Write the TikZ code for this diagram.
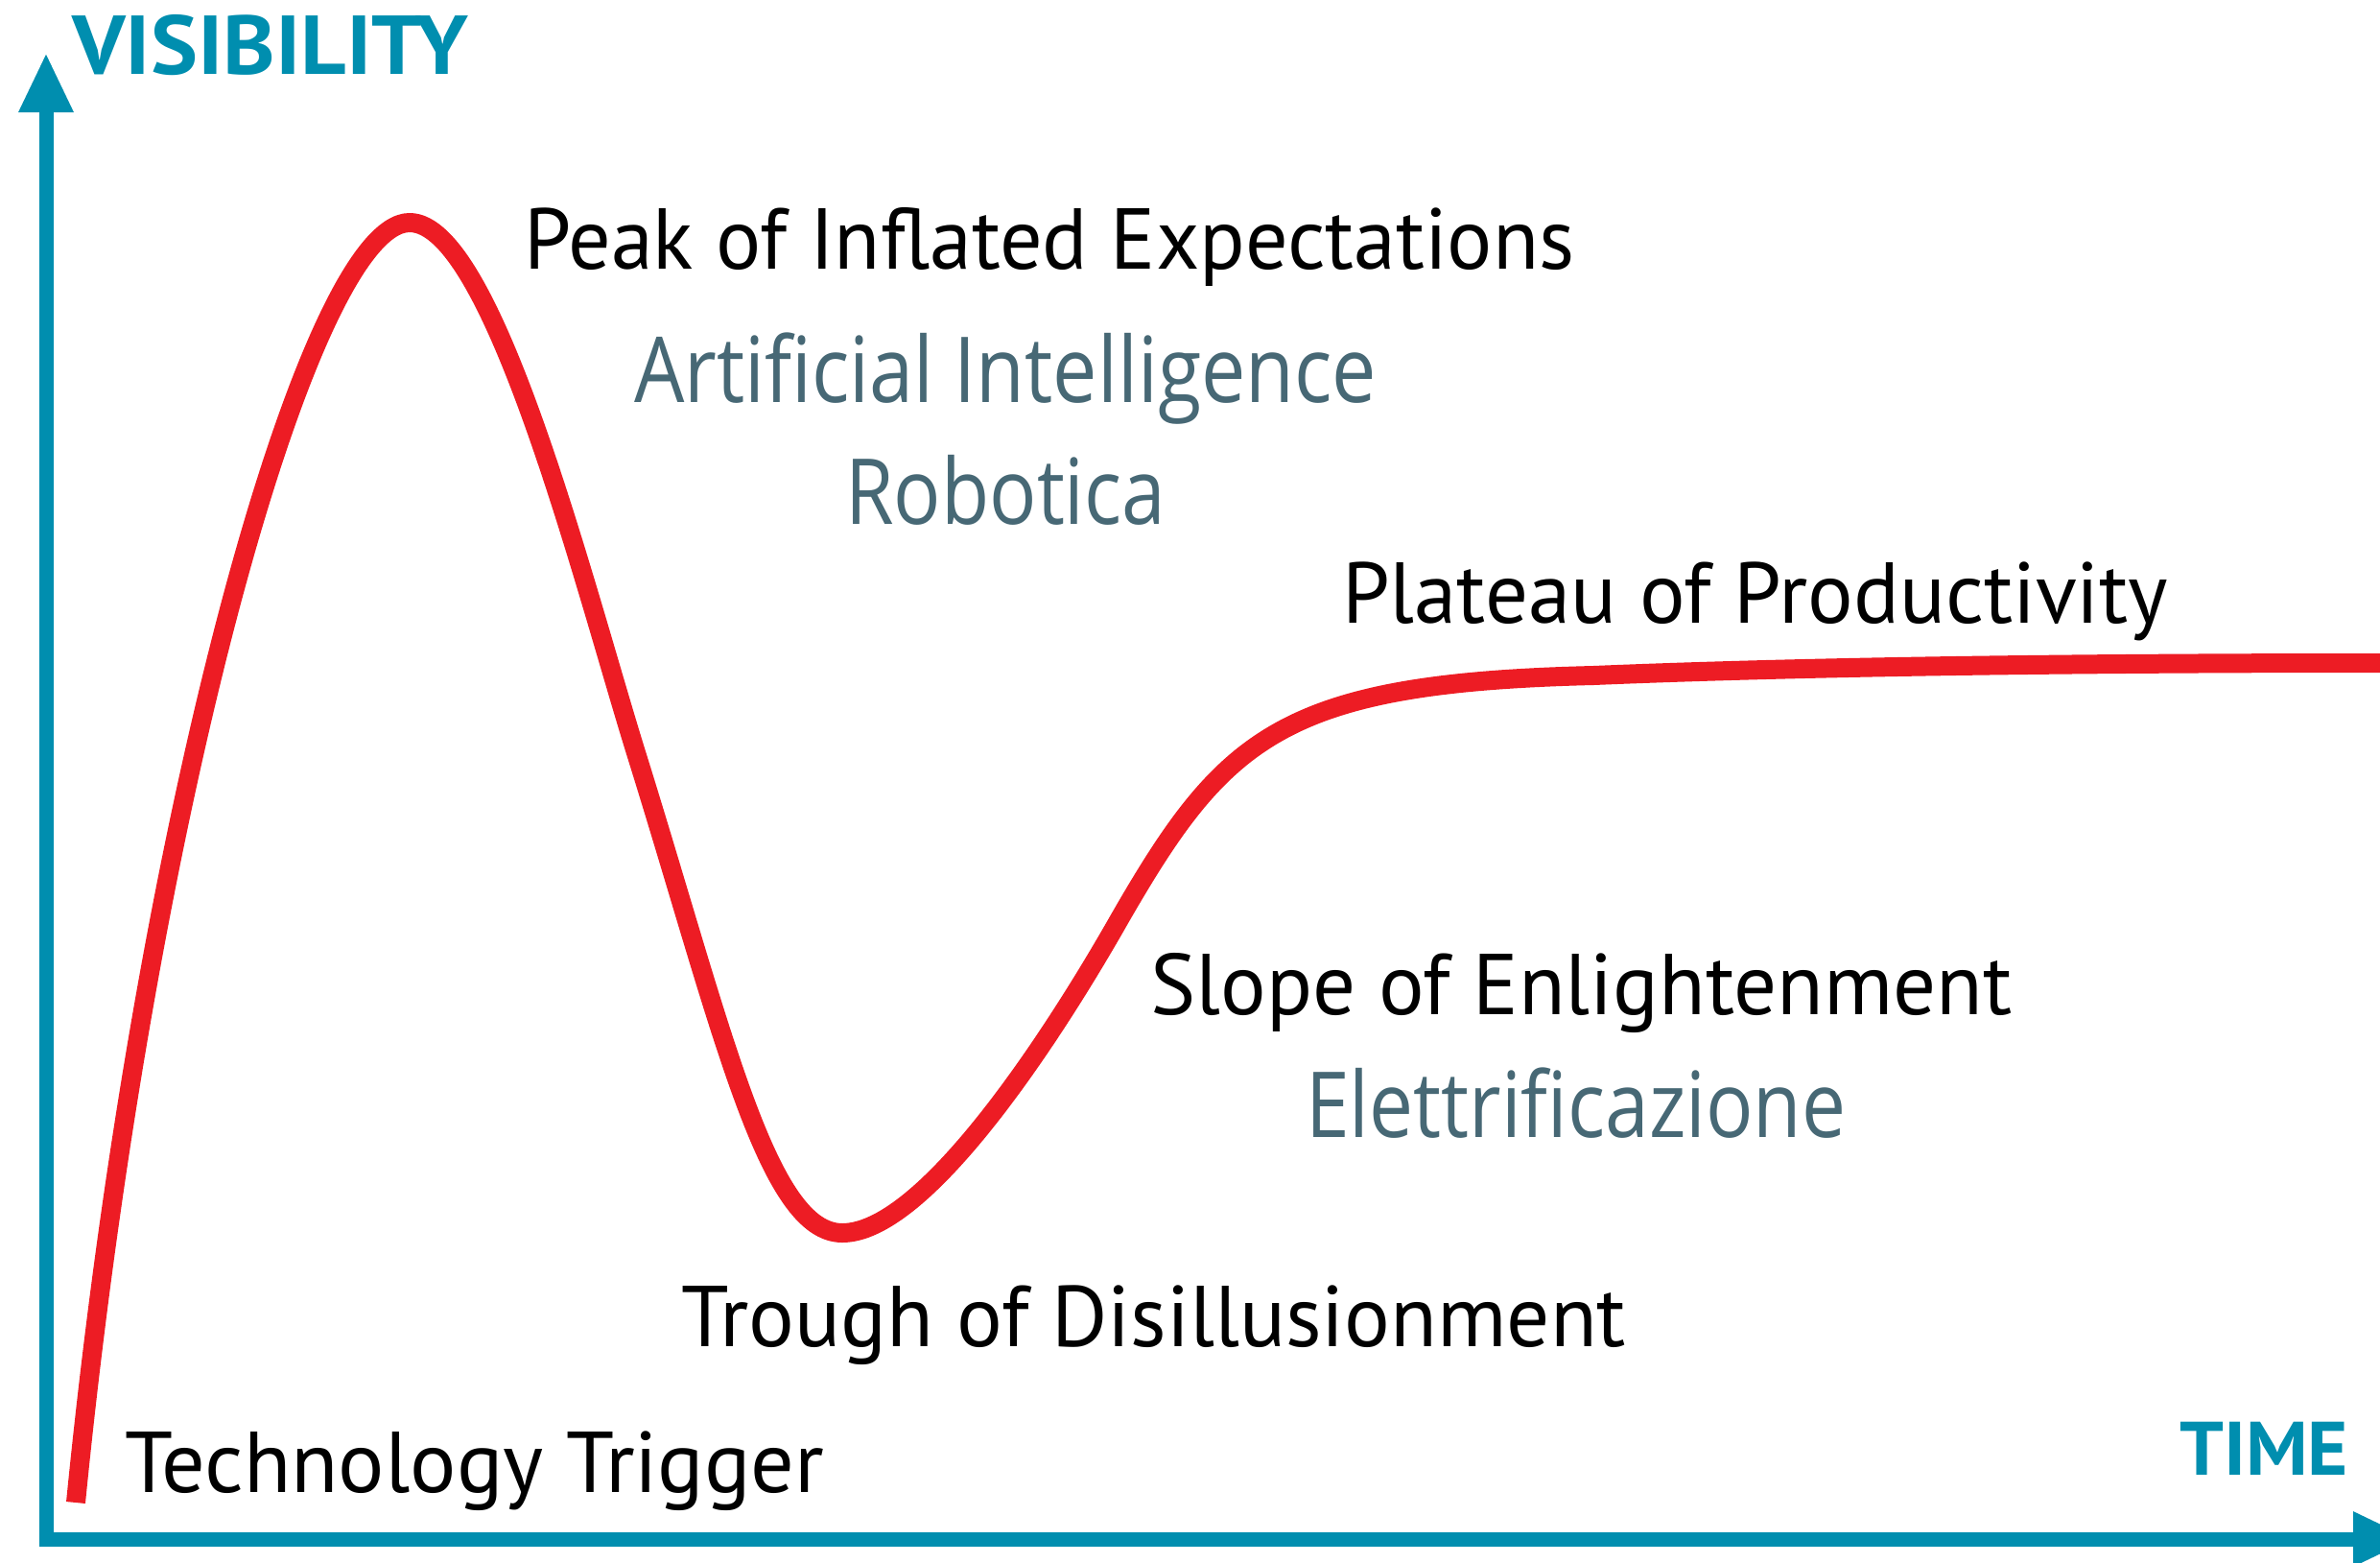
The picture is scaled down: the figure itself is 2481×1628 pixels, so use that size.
\documentclass[tikz,border=0pt]{standalone}
\usepackage{fontspec}
\setmainfont{PT Sans}
\newfontfamily\slatefont{Open Sans}
\usetikzlibrary{arrows.meta}
\definecolor{axisteal}{RGB}{0,142,175}
\definecolor{hyperred}{RGB}{237,28,36}
\definecolor{slategray}{RGB}{71,104,117}
\begin{document}
\begin{tikzpicture}[x=1pt,y=-1pt,
  lbl/.style={inner sep=0pt, anchor=base west, text=black, font=\fontsize{90}{100}\selectfont},
  techlbl/.style={inner sep=0pt, anchor=base west, text=slategray, font=\slatefont\fontsize{95}{100}\selectfont},
  axlbl/.style={inner sep=0pt, anchor=base west, text=axisteal, font=\bfseries\fontsize{87}{90}\selectfont},
  axisline/.style={draw=axisteal, line width=15pt, line join=miter,
    {Triangle[length=62pt,width=53pt]}-{Triangle[length=62pt,width=53pt]}},
  hype/.style={draw=hyperred, line width=20pt, line cap=butt, line join=round}]
\useasboundingbox (0,0) rectangle (2481,1628);
\fill[white] (0,0) rectangle (2481,1628);
% axes
\coordinate (ytip) at (48,55);
\coordinate (origin) at (48,1604);
\coordinate (xtip) at (2515,1604);
\draw[axisline] (xtip) -- (origin) -- (ytip);
\node[axlbl] (vis) at (75,77) {\resizebox{413pt}{\height}{VISIBILITY}};
\node[axlbl, font=\bfseries\fontsize{79}{80}\selectfont] (time) at (2272,1537) {\resizebox{176pt}{\height}{TIME}};
% hype curve
\coordinate (trigger pt) at (79,1566);
\coordinate (peak pt) at (427,232);
\coordinate (fall pt) at (665,791);
\coordinate (trough pt) at (878,1285);
\coordinate (rise pt) at (1160,970);
\coordinate (knee pt) at (1661,704);
\coordinate (plateau end) at (2481,691);
\draw[hype] (trigger pt)
  .. controls (150,850) and (322,232) .. (peak pt)
  .. controls (515,232) and (611,619) .. (fall pt)
  .. controls (754,1077) and (800,1285) .. (trough pt)
  .. controls (960,1285) and (1085,1100) .. (rise pt)
  .. controls (1274,770) and (1330,712) .. (knee pt)
  .. controls (1900,694) and (2200,691) .. (plateau end);
% labels
\node[lbl] (peak) at (546,280) {\resizebox{1095pt}{\height}{Peak of Inflated Expectations}};
\node[techlbl] (ai) at (661,419) {\resizebox{774pt}{\height}{Artificial Intelligence}};
\node[techlbl] (robot) at (881,546) {\resizebox{334pt}{\height}{Robotica}};
\node[lbl] (plateau) at (1399,649) {\resizebox{861pt}{\height}{Plateau of Productivity}};
\node[lbl] (slope) at (1199,1057) {\resizebox{898pt}{\height}{Slope of Enlightenment}};
\node[techlbl] (elet) at (1361,1185) {\resizebox{563pt}{\height}{Elettrificazione}};
\node[lbl] (trough) at (710,1403) {\resizebox{985pt}{\height}{Trough of Disillusionment}};
\node[lbl] (trigger) at (130,1555) {\resizebox{729pt}{\height}{Technology Trigger}};
\end{tikzpicture}
\end{document}
